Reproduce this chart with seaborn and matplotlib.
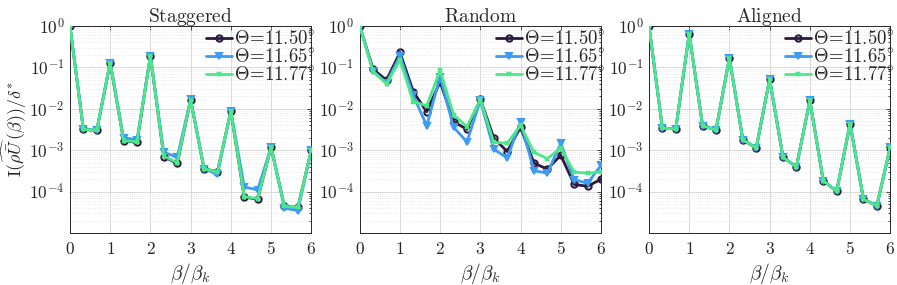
import numpy as np
import pandas as pd
import matplotlib
matplotlib.use("Agg")
import matplotlib.pyplot as plt
import seaborn as sns
from matplotlib.ticker import FixedLocator, FuncFormatter, LogLocator, NullFormatter

sns.set_theme(style="white")
plt.rcParams["mathtext.fontset"] = "cm"
plt.rcParams["font.family"] = ["DejaVu Serif"]

beta = [i / 3 for i in range(19)]
labels = [r"$\Theta\!=\!11.50^{\circ}$", r"$\Theta\!=\!11.65^{\circ}$", r"$\Theta\!=\!11.77^{\circ}$"]
panels = ["Staggered", "Random", "Aligned"]

stag_1150 = [1.0, 3.2e-3, 3.0e-3, 0.13, 1.7e-3, 1.55e-3, 0.19, 7.0e-4, 4.8e-4, 0.0165,
             3.6e-4, 3.0e-4, 8.8e-3, 7.4e-5, 6.6e-5, 1.2e-3, 4.4e-5, 4.2e-5, 1.0e-3]
stag_1165 = [1.0, 3.2e-3, 3.0e-3, 0.13, 2.0e-3, 1.8e-3, 0.19, 9.0e-4, 6.7e-4, 0.017,
             3.6e-4, 2.6e-4, 9.0e-3, 1.3e-4, 1.1e-4, 1.2e-3, 4.0e-5, 3.5e-5, 1.0e-3]
stag_1177 = [1.0, 3.2e-3, 3.0e-3, 0.13, 1.7e-3, 1.6e-3, 0.19, 7.2e-4, 5.0e-4, 0.0165,
             3.6e-4, 3.0e-4, 8.8e-3, 7.6e-5, 6.8e-5, 1.2e-3, 4.4e-5, 4.2e-5, 1.0e-3]

rand_1150 = [1.0, 0.09, 0.049, 0.23, 0.026, 8.5e-3, 0.045, 4.9e-3, 3.2e-3, 0.017,
             2.0e-3, 9.3e-4, 3.6e-3, 4.9e-4, 3.5e-4, 7.6e-4, 1.5e-4, 1.35e-4, 2.0e-4]
rand_1165 = [1.0, 0.08, 0.042, 0.19, 0.021, 3.9e-3, 0.06, 3.6e-3, 1.6e-3, 0.016,
             1.07e-3, 6.5e-4, 4.9e-3, 3.2e-4, 2.8e-4, 1.47e-3, 1.95e-4, 1.6e-4, 4.3e-4]
rand_1177 = [1.0, 0.08, 0.04, 0.15, 0.015, 0.0118, 0.085, 7.2e-3, 3.7e-3, 0.017,
             1.55e-3, 1.47e-3, 4.0e-3, 8.9e-4, 6.3e-4, 1.13e-3, 2.97e-4, 2.8e-4, 3.0e-4]

alig_1150 = [1.0, 3.4e-3, 3.3e-3, 0.65, 3.9e-3, 3.1e-3, 0.17, 1.8e-3, 1.13e-3, 0.052,
             6.7e-4, 4.0e-4, 0.016, 1.85e-4, 1.02e-4, 4.4e-3, 6.6e-5, 4.6e-5, 1.2e-3]
alig_1165 = list(alig_1150)
alig_1177 = list(alig_1150)

data = {
    "Staggered": [stag_1150, stag_1165, stag_1177],
    "Random": [rand_1150, rand_1165, rand_1177],
    "Aligned": [alig_1150, alig_1165, alig_1177],
}

colors = ["#2b1a3e", "#3d9cf0", "#4be88a"]
markers = ["o", "v", "x"]
msizes = [4.5, 5.0, 3.5]
faces = ["none", "#3d9cf0", "none"]

fig = plt.figure(figsize=(8.97, 2.85), dpi=100)
lefts = [0.078, 0.401, 0.7235]
width = 0.269
bottom = 0.182
height = 0.727

for k, name in enumerate(panels):
    ax = fig.add_axes([lefts[k], bottom, width, height])
    for j in range(3):
        df = pd.DataFrame({"beta": beta, "val": data[name][j]})
        sns.lineplot(data=df, x="beta", y="val", ax=ax, color=colors[j],
                     marker=markers[j], markersize=msizes[j], linewidth=2.0,
                     markeredgecolor=colors[j], markeredgewidth=1.5,
                     markerfacecolor=faces[j], label=labels[j], zorder=3 + j)
    ax.set_yscale("log")
    ax.set_xlim(0, 6)
    ax.set_ylim(1e-5, 1)
    ax.xaxis.set_major_locator(FixedLocator([0, 1, 2, 3, 4, 5, 6]))
    ax.xaxis.set_major_formatter(FuncFormatter(lambda v, p: r"$%d$" % round(v)))
    ax.yaxis.set_major_locator(FixedLocator([1e-4, 1e-3, 1e-2, 1e-1, 1]))
    ax.yaxis.set_major_formatter(FuncFormatter(lambda v, p: r"$10^{%d}$" % round(np.log10(v))))
    ax.yaxis.set_minor_locator(LogLocator(base=10, subs=np.arange(2, 10), numticks=20))
    ax.yaxis.set_minor_formatter(NullFormatter())
    ax.tick_params(axis="both", which="both", direction="in", top=True, right=True,
                   labelsize=12.5, colors="#262626", length=3, width=0.6, pad=4)
    ax.tick_params(axis="both", which="minor", length=1.8)
    ax.tick_params(axis="x", which="major", pad=6)
    ax.grid(True, which="major", color="#d9d9d9", linewidth=0.7)
    ax.grid(True, which="minor", axis="y", color="#e3e3e3", linewidth=0.6, linestyle=":")
    for s in ax.spines.values():
        s.set_color("#262626")
        s.set_linewidth(0.7)
    ax.set_title(r"$\mathrm{%s}$" % name, fontsize=14, pad=3)
    ax.set_xlabel(r"$\beta/\beta_k$", fontsize=14, labelpad=2)
    if k == 0:
        ax.set_ylabel(r"$\mathrm{I}(\widehat{\rho\bar{U}}\,(\beta))/\delta^{*}$", fontsize=13, labelpad=0)
    else:
        ax.set_ylabel("")
    leg = ax.legend(loc="upper right", frameon=False, fontsize=13.5, handlelength=1.4,
                    handletextpad=0.1, borderaxespad=0.0, labelspacing=0.0,
                    bbox_to_anchor=(1.05, 1.015))

fig.savefig("out.png", dpi=100)
